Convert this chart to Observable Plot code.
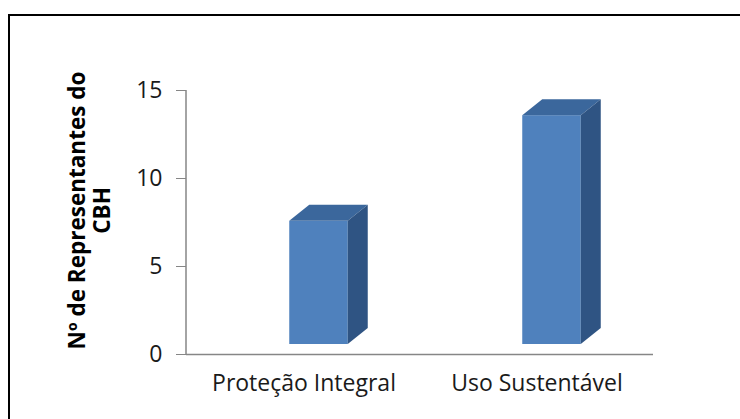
<!DOCTYPE html>
<html>
<head>
<meta charset="utf-8">
<script src="https://cdn.jsdelivr.net/npm/d3@7"></script>
<script src="https://cdn.jsdelivr.net/npm/@observablehq/plot@0.6"></script>
<style>
  html, body { margin: 0; padding: 0; background: #fff; }
  #wrap { position: relative; width: 740px; height: 419px; overflow: hidden; }
  #border { position: absolute; left: 8px; top: 14px; width: 800px; height: 500px;
            border-top: 2px solid #000; border-left: 2px solid #000; pointer-events: none; }
  #chart { position: absolute; left: 0; top: 0; }
</style>
</head>
<body>
<div id="wrap"><div id="border"></div><div id="chart"></div></div>
<script>
const categories = ["Proteção Integral", "Uso Sustentável"];
const values = [7, 13];
const yTicks = [0, 5, 10, 15];
const yTitle = "Nº de Representantes do\nCBH";

const data = categories.map((c, i) => ({categoria: c, valor: values[i]}));

const front = "#4F81BD", topC = "#3b679c", sideC = "#2f5483", axisC = "#868686";
const frontInset = 87.25, shiftX = 15, shiftY = -10, depthX = 20, depthY = -16;

function faces(index, scales, vals, dims) {
  const {x, y} = scales;
  const g = d3.create("svg:g");
  g.append("line")
    .attr("x1", dims.marginLeft).attr("x2", dims.marginLeft)
    .attr("y1", y(15)).attr("y2", y(0))
    .attr("stroke", axisC).attr("stroke-width", 1.5);
  const bw = typeof x.bandwidth === "function" ? x.bandwidth() : x.bandwidth;
  for (const d of data) {
    const x0 = x(d.categoria) + frontInset + shiftX;
    const x1 = x(d.categoria) + bw - frontInset + shiftX;
    const yt = y(d.valor) + shiftY;
    const yb = y(0) + shiftY;
    g.append("polygon")
      .attr("points", [[x0, yt], [x0 + depthX, yt + depthY], [x1 + depthX, yt + depthY], [x1, yt]].join(" "))
      .attr("fill", topC);
    g.append("polygon")
      .attr("points", [[x1, yt], [x1 + depthX, yt + depthY], [x1 + depthX, yb + depthY], [x1, yb]].join(" "))
      .attr("fill", sideC);
  }
  return g.node();
}

const chart = Plot.plot({
  width: 740, height: 419,
  marginLeft: 186, marginRight: 87, marginTop: 90, marginBottom: 65,
  style: {fontFamily: "'Open Sans', sans-serif", fontSize: "23px", color: "#1a1a1a", background: "transparent"},
  x: {domain: categories, padding: 0, label: null},
  y: {domain: [0, 15], ticks: yTicks, label: null},
  marks: [
    Plot.ruleY([0], {stroke: axisC, strokeWidth: 1.5}),
    Plot.axisY({ticks: yTicks, tickSize: 10, tickPadding: 14, stroke: axisC, label: null, fontSize: 23}),
    Plot.axisX({tickSize: 0, tickPadding: 20, label: null, fontSize: 23}),
    Plot.barY(data, {x: "categoria", y: "valor", fill: front, insetLeft: frontInset, insetRight: frontInset, dx: shiftX, dy: shiftY}),
    faces,
    Plot.text([yTitle], {frameAnchor: "left", textAnchor: "middle", lineAnchor: "middle", rotate: -90, dx: -97, dy: -12, fontWeight: "bold", fontSize: 22.5, lineHeight: 1.1, fill: "#000"})
  ]
});
document.getElementById("chart").appendChild(chart);
</script>
</body>
</html>
